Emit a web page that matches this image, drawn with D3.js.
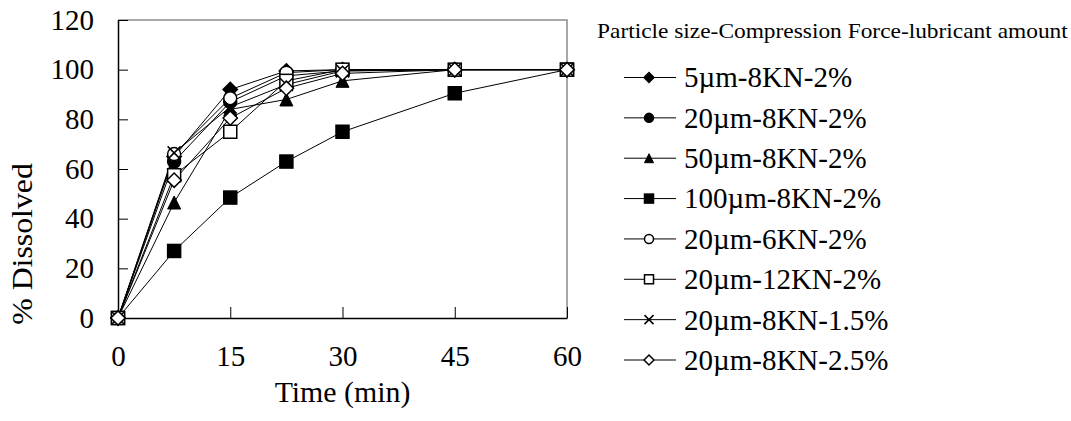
<!DOCTYPE html>
<html>
<head>
<meta charset="utf-8">
<script src="https://cdn.jsdelivr.net/npm/d3@7"></script>
<style>
  body { margin: 0; background: #fff; }
  text { font-family: "Times New Roman", "Liberation Serif", serif; fill: #000; }
</style>
</head>
<body>
<svg id="chart" width="1071" height="421"></svg>
<script>
// time points (min)
const times = [0, 7.5, 15, 22.5, 30, 45, 60];

// series names (legend order)
const seriesNames = [
  "5µm-8KN-2%", "20µm-8KN-2%", "50µm-8KN-2%", "100µm-8KN-2%",
  "20µm-6KN-2%", "20µm-12KN-2%", "20µm-8KN-1.5%", "20µm-8KN-2.5%"
];

// % dissolved
const s5um = [0, 65, 92, 99.5, 100, 100, 100];
const s20um = [0, 63, 87, 97.5, 99.5, 100, 100];
const s50um = [0, 46.5, 84, 88, 95.5, 100, 100];
const s100um = [0, 27, 48.5, 63, 75, 90.5, 100];
const s6kn = [0, 66, 88.5, 98.8, 100, 100, 100];
const s12kn = [0, 57.5, 75, 95.5, 100, 100, 100];
const s15lub = [0, 66.5, 85, 94, 99.5, 100, 100];
const s25lub = [0, 55.5, 80.5, 92.5, 98.5, 100, 100];

const seriesValues = [s5um, s20um, s50um, s100um, s6kn, s12kn, s15lub, s25lub];
const markerTypes = ["diamondFilled", "circleFilled", "triangleFilled", "squareFilled",
  "circleOpen", "squareOpen", "cross", "diamondOpen"];

const xTicks = [0, 15, 30, 45, 60];
const yTicks = [0, 20, 40, 60, 80, 100, 120];

const svg = d3.select("#chart");

const x = d3.scaleLinear().domain([0, 60]).range([118, 567]);
const y = d3.scaleLinear().domain([0, 120]).range([318, 20]);

// frame: top and right in gray
svg.append("path")
  .attr("d", `M${x(0)},${y(120)}H${x(60)}V${y(0)}`)
  .attr("fill", "none")
  .attr("stroke", "#8c8c8c")
  .attr("stroke-width", 1.5);

// axes with inward ticks
const yAxis = d3.axisLeft(y).tickValues(yTicks).tickSizeInner(-10).tickSizeOuter(0).tickPadding(24);
const xAxis = d3.axisBottom(x).tickValues(xTicks).tickSizeInner(-11).tickSizeOuter(0).tickPadding(27);

const gy = svg.append("g").attr("transform", `translate(${x(0)},0)`).call(yAxis);
const gx = svg.append("g").attr("transform", `translate(0,${y(0)})`).call(xAxis);

[gx, gy].forEach(g => {
  g.select(".domain").attr("stroke", "#000").attr("stroke-width", 1.5);
  g.selectAll(".tick line").attr("stroke", "#000").attr("stroke-width", 1);
  g.selectAll(".tick text")
    .style("font-family", '"Times New Roman", "Liberation Serif", serif')
    .style("font-size", "29px")
    .attr("fill", "#000");
});

// axis titles
svg.append("text")
  .attr("transform", `translate(${x(30)},402) scale(1.03,1)`)
  .attr("text-anchor", "middle")
  .style("font-size", "29px")
  .text("Time (min)");

svg.append("text")
  .attr("transform", "translate(32,244) rotate(-90) scale(1.06,1)")
  .attr("text-anchor", "middle")
  .style("font-size", "30px")
  .text("% Dissolved");

// marker drawing
function drawMarker(g, type, s) {
  const h = s / 2;
  if (type === "diamondFilled" || type === "diamondOpen") {
    const r = h * 1.1;
    g.append("path")
      .attr("d", `M0,${-r}L${r},0L0,${r}L${-r},0Z`)
      .attr("fill", type === "diamondFilled" ? "#000" : "#fff")
      .attr("stroke", "#000").attr("stroke-width", 1.5);
  } else if (type === "circleFilled" || type === "circleOpen") {
    g.append("circle").attr("r", h)
      .attr("fill", type === "circleFilled" ? "#000" : "#fff")
      .attr("stroke", "#000").attr("stroke-width", 1.5);
  } else if (type === "squareFilled" || type === "squareOpen") {
    g.append("rect").attr("x", -h).attr("y", -h).attr("width", s).attr("height", s)
      .attr("fill", type === "squareFilled" ? "#000" : "#fff")
      .attr("stroke", "#000").attr("stroke-width", 1.5);
  } else if (type === "triangleFilled") {
    g.append("path")
      .attr("d", `M0,${-h}L${h},${h}L${-h},${h}Z`)
      .attr("fill", "#000").attr("stroke", "#000").attr("stroke-width", 1);
  } else if (type === "cross") {
    g.append("path")
      .attr("d", `M${-h},${-h}L${h},${h}M${h},${-h}L${-h},${h}`)
      .attr("stroke", "#000").attr("stroke-width", 1.5);
  }
}

const line = d3.line().x((d, i) => x(times[i])).y(d => y(d));

// lines
seriesValues.forEach(vals => {
  svg.append("path")
    .datum(vals)
    .attr("d", line)
    .attr("fill", "none")
    .attr("stroke", "#000")
    .attr("stroke-width", 1);
});

// markers
seriesValues.forEach((vals, k) => {
  const g = svg.append("g");
  g.selectAll("g")
    .data(vals)
    .enter()
    .append("g")
    .attr("transform", (d, i) => `translate(${x(times[i])},${y(d)})`)
    .each(function () { drawMarker(d3.select(this), markerTypes[k], 13); });
});

// legend
svg.append("text")
  .attr("transform", "translate(597,38) scale(1.17,1)")
  .style("font-size", "20px")
  .text("Particle size-Compression Force-lubricant amount");

const legendY = d3.scalePoint().domain(seriesNames).range([77.5, 360]);

const leg = svg.append("g")
  .selectAll("g")
  .data(seriesNames)
  .enter()
  .append("g")
  .attr("transform", d => `translate(0,${legendY(d)})`);

leg.append("line")
  .attr("x1", 624).attr("x2", 676)
  .attr("stroke", "#000").attr("stroke-width", 1);

leg.append("g")
  .attr("transform", "translate(649,0)")
  .each(function (d, i) { drawMarker(d3.select(this), markerTypes[i], 9); });

leg.append("text")
  .attr("x", 684)
  .attr("dy", "0.34em")
  .style("font-size", "29px")
  .text(d => d);
</script>
</body>
</html>
